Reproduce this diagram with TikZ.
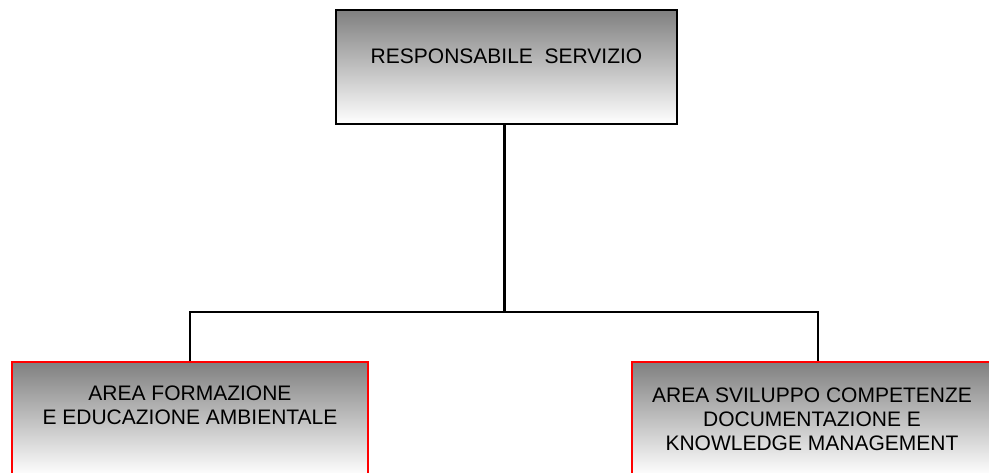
\documentclass[tikz,border=0pt]{standalone}
\usepackage{fontspec}
\setmainfont{Liberation Sans}

\newcommand{\boxlines}[1]{\begin{tabular}[t]{@{}c@{}}#1\end{tabular}}

\begin{document}
\begin{tikzpicture}[x=1pt,y=-1pt,font=\fontsize{21}{24}\selectfont,
  orgbox/.style={rectangle,draw=#1,line width=1.5pt,top color=gray,bottom color=white,inner sep=0pt,anchor=north},
  link/.style={draw,line width=1.2pt}]
                \useasboundingbox (0,0) rectangle (989,472);
                \clip (0,0) rectangle (989,472);

                \node[orgbox=black, minimum width=341pt, text height=54pt, text depth=60pt] (resp) at (506.5,9) {RESPONSABILE\ \ SERVIZIO};
                \node[orgbox=red, minimum width=356pt, text height=39pt, text depth=75pt] (formaz) at (190,361) {\boxlines{AREA FORMAZIONE\\E EDUCAZIONE AMBIENTALE}};
                \node[orgbox=red, minimum width=360pt, text height=41pt, text depth=73pt] (svil) at (812,361) {\boxlines{AREA SVILUPPO COMPETENZE\\DOCUMENTAZIONE E\\KNOWLEDGE MANAGEMENT}};

                \coordinate (hub) at (504,312);
                \coordinate (dropR) at (818,312);

                \draw[line width=3pt] (hub |- resp.south) -- (hub);
                \draw[link] (formaz.north) |- (dropR) -- (dropR |- svil.north);
            \end{tikzpicture}
\end{document}
